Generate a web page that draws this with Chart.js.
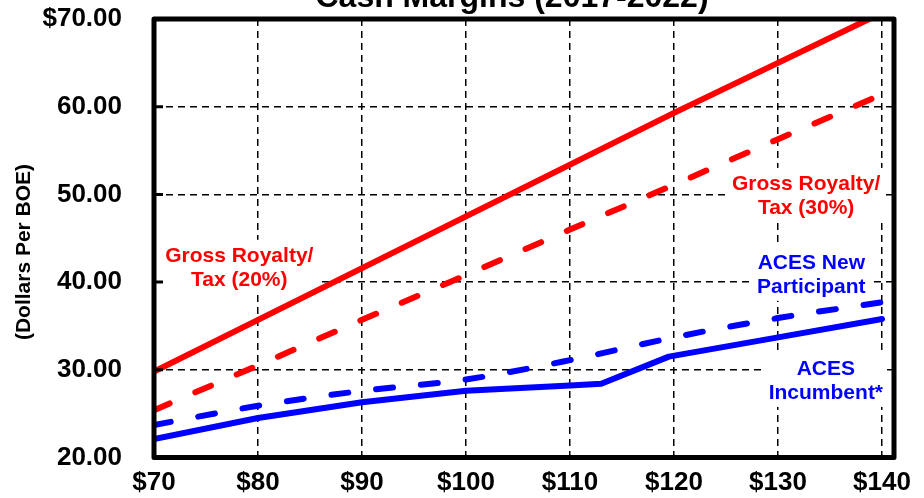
<!DOCTYPE html>
<html>
<head>
<meta charset="utf-8">
<script src="https://cdn.jsdelivr.net/npm/chart.js@4.4.1/dist/chart.umd.min.js"></script>
<style>
  html, body { margin: 0; padding: 0; background: #fff; }
  #wrap { width: 924px; height: 498px; position: relative; }
</style>
</head>
<body>
<div id="wrap"><canvas id="chart"></canvas></div>
<script>
/* Cash margins chart */

const xPrices = [70, 80, 90, 100, 110, 120, 130, 140];
const royalty20 = [29.8, 35.7, 41.6, 47.5, 53.4, 59.3, 65.0, 70.7];
const royalty30 = [25.4, 30.5, 35.7, 40.8, 46.0, 51.1, 56.3, 61.4];
const acesNew = [23.7, 25.9, 27.6, 28.9, 31.1, 33.7, 35.9, 37.7];

const incumbentPrices = [70, 80, 90, 100, 110, 113, 119.5, 130, 140];
const acesIncumbent = [22.1, 24.5, 26.3, 27.6, 28.2, 28.4, 31.5, 33.7, 35.8];

const xTickValues = [70, 80, 90, 100, 110, 120, 130, 140];
const xTickLabels = ["$70", "$80", "$90", "$100", "$110", "$120", "$130", "$140"];
const yTickLabels = ["20.00", "30.00", "40.00", "50.00", "60.00", "$70.00"];

const FONT = "'Liberation Sans', Arial, Helvetica, sans-serif";
const RED = "#ff0000";
const BLUE = "#0000ff";

const labels = [
  { lines: ["Gross Royalty/", "Tax (20%)"], x: 78.2, y: 41.8, color: RED },
  { lines: ["Gross Royalty/", "Tax (30%)"], x: 132.7, y: 50.0, color: RED },
  { lines: ["ACES New", "Participant"], x: 133.2, y: 41.0, color: BLUE },
  { lines: ["ACES", "Incumbent*"], x: 134.6, y: 28.9, color: BLUE }
];

function points(xs, ys) {
  return xs.map((x, i) => ({ x, y: ys[i] }));
}

const lineLabels = {
  id: "lineLabels",
  beforeDatasetsDraw(chart) {
    const { ctx, scales } = chart;
    const size = 21, gap = 24, cap = 15;
    ctx.save();
    ctx.font = "bold " + size + "px " + FONT;
    ctx.textAlign = "center";
    ctx.textBaseline = "alphabetic";
    labels.forEach(l => {
      const cx = scales.x.getPixelForValue(l.x);
      const cy = scales.y.getPixelForValue(l.y);
      const block = cap + gap * (l.lines.length - 1);
      const first = cy - block / 2 + cap;
      const w = Math.max(...l.lines.map(t => ctx.measureText(t).width)) + 8;
      ctx.fillStyle = "#fff";
      ctx.fillRect(cx - w / 2, first - cap - 7, w, block + 15);
      ctx.fillStyle = l.color;
      l.lines.forEach((t, i) => ctx.fillText(t, cx, first + i * gap));
    });
    ctx.restore();
  }
};

const frame = {
  id: "frame",
  afterDraw(chart) {
    const { ctx, chartArea: a, scales } = chart;
    ctx.save();
    // little inward ticks on the value axis
    ctx.strokeStyle = "#000";
    ctx.lineWidth = 3;
    ctx.beginPath();
    scales.y.ticks.forEach(t => {
      if (t.value > 20 && t.value < 70) {
        const y = scales.y.getPixelForValue(t.value);
        ctx.moveTo(a.left, y);
        ctx.lineTo(a.left + 9, y);
      }
    });
    ctx.stroke();
    ctx.lineWidth = 5;
    ctx.lineJoin = "round";
    ctx.strokeRect(a.left, a.top, a.right - a.left, a.bottom - a.top);

    // title, cut off at the top like the original
    ctx.fillStyle = "#000";
    ctx.textAlign = "center";
    ctx.textBaseline = "alphabetic";
    ctx.font = "bold 32px " + FONT;
    ctx.fillText("Cash Margins (2017-2022)", 512, 7);

    // value axis title
    ctx.translate(24, 252);
    ctx.rotate(-Math.PI / 2);
    ctx.textBaseline = "middle";
    ctx.font = "bold 21px " + FONT;
    ctx.fillText("(Dollars Per BOE)", 0, 0);
    ctx.restore();
  }
};

const solid = color => ({
  borderColor: color,
  borderWidth: 6,
  borderCapStyle: "round",
  borderJoinStyle: "round",
  pointRadius: 0,
  fill: false,
  clip: 0
});

const dashed = color => Object.assign(solid(color), { borderDash: [17, 28] });

new Chart(document.getElementById("chart"), {
  type: "line",
  data: {
    datasets: [
      Object.assign({ label: "Gross Royalty/Tax (20%)", data: points(xPrices, royalty20) }, solid(RED)),
      Object.assign({ label: "Gross Royalty/Tax (30%)", data: points(xPrices, royalty30) }, dashed(RED)),
      Object.assign({ label: "ACES New Participant", data: points(xPrices, acesNew), cubicInterpolationMode: "monotone" }, dashed(BLUE)),
      Object.assign({ label: "ACES Incumbent*", data: points(incumbentPrices, acesIncumbent) }, solid(BLUE))
    ]
  },
  options: {
    responsive: true,
    maintainAspectRatio: false,
    animation: false,
    events: [],
    layout: { padding: { top: 19, right: 30, left: 0, bottom: 0 } },
    plugins: {
      legend: { display: false },
      title: { display: false },
      tooltip: { enabled: false }
    },
    scales: {
      x: {
        type: "linear",
        min: 70,
        max: 141.15,
        afterBuildTicks(scale) {
          scale.ticks = xTickValues.map(v => ({ value: v }));
        },
        afterFit(scale) {
          scale.height = 40.5;
          scale.paddingLeft = 0;
          scale.paddingRight = 0;
        },
        grid: { color: "#000", lineWidth: 1.5, drawTicks: false },
        border: { display: false, dash: [7, 5] },
        ticks: {
          padding: 10,
          color: "#000",
          maxRotation: 0,
          autoSkip: false,
          font: { family: FONT, size: 26, weight: "bold" },
          callback: (v, i) => xTickLabels[i]
        }
      },
      y: {
        min: 20,
        max: 70,
        afterFit(scale) {
          scale.width = 154;
          scale.paddingTop = 0;
          scale.paddingBottom = 0;
        },
        grid: { color: "#000", lineWidth: 1.5, drawTicks: false },
        border: { display: false, dash: [7, 5] },
        ticks: {
          stepSize: 10,
          padding: 32,
          color: "#000",
          font: { family: FONT, size: 26, weight: "bold" },
          callback: (v, i) => yTickLabels[i]
        }
      }
    }
  },
  plugins: [lineLabels, frame]
});
</script>
</body>
</html>
